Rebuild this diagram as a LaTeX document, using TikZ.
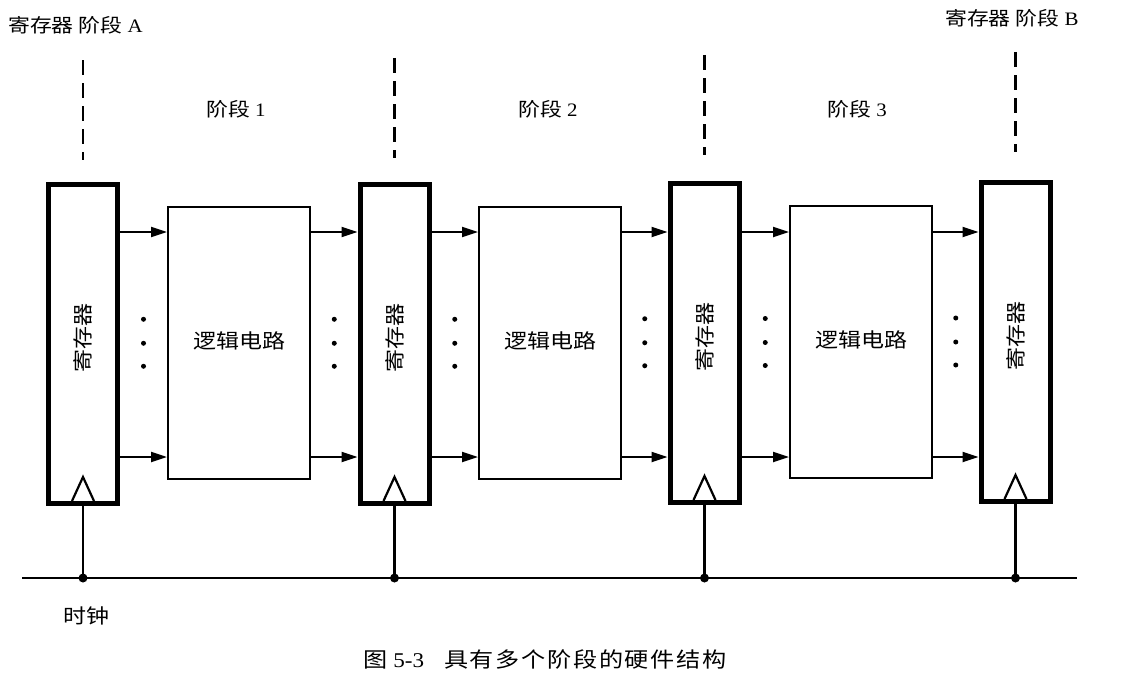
\documentclass[tikz,border=0pt]{standalone}
\usepackage{fontspec}
\setmainfont[FakeStretch=1.1]{Liberation Serif}
\newfontfamily\cjk[FakeStretch=1.15]{Noto Sans CJK SC}
\usetikzlibrary{arrows.meta,calc}
\begin{document}
\begin{tikzpicture}[x=1pt,y=-1pt,
  reg/.style={draw, line width=5pt, minimum width=69pt, minimum height=319pt, inner sep=0pt},
  logic/.style={draw, line width=2pt, minimum width=142pt, minimum height=272pt, inner sep=0pt,
     font=\cjk\fontsize{20}{24}\selectfont},
  arr/.style={line width=2.2pt, -{Triangle[length=16pt,width=10pt]}},
  dline/.style={line width=2.2pt, dash pattern=on 15pt off 8pt},
  clk/.style={line width=2.2pt},
  lbl/.style={font=\fontsize{19}{22}\selectfont, inner sep=0pt},
  vdot/.style={circle, fill, inner sep=0pt, minimum size=5pt},
  jdot/.style={circle, fill, inner sep=0pt, minimum size=9pt}
]
\useasboundingbox (0,0) rectangle (1131,685);

% registers
\node[reg] (r1) at (83,344) {};
\node[reg] (r2) at (394.5,344) {};
\node[reg] (r3) at (704.5,343) {};
\node[reg] (r4) at (1015.5,342) {};
% logic boxes
\node[logic] (l1) at (239,342.5) {\raisebox{5pt}{逻辑电路}};
\node[logic] (l2) at (550,342.5) {\raisebox{5pt}{逻辑电路}};
\node[logic] (l3) at (861,342) {\raisebox{5pt}{逻辑电路}};

% register labels
\foreach \r in {r1,r2,r3,r4}{
  \node[rotate=90, font=\cjk\fontsize{20}{24}\selectfont, inner sep=0pt] (\r t) at ($(\r.center)+(0,-6)$) {寄存器};
  % clock triangle
  \draw[line width=2.2pt] ($(\r.south)+(-11,-5)$) -- ($(\r.south)+(0,-29)$) -- ($(\r.south)+(11,-5)$);
}

% arrow rows
\coordinate (ytop) at (0,232);
\coordinate (ybot) at (0,457);
\foreach \a/\b in {r1/l1,l1/r2,r2/l2,l2/r3,r3/l3,l3/r4}{
  \draw[arr] (\a.east |- ytop) -- (\b.west |- ytop);
  \draw[arr] (\a.east |- ybot) -- (\b.west |- ybot);
  \node[vdot] at ($(\a.east)!0.5!(\b.west) + (0,-24)$) {};
  \node[vdot] at ($(\a.east)!0.5!(\b.west) + (0,0)$) {};
  \node[vdot] at ($(\a.east)!0.5!(\b.west) + (0,23)$) {};
}

% dashed stage separators
\foreach \r/\t in {r1/60,r2/58,r3/55,r4/52}{
  \coordinate (\r d1) at (\r.north |- 0,\t);
  \coordinate (\r d2) at ($(\r d1)+(0,100)$);
  \draw[dline] (\r d1) -- (\r d2);
}

% clock line
\coordinate (cl) at (22,578);
\coordinate (cr) at (1077,578);
\draw[clk] (cl) -- (cr);
\foreach \r in {r1,r2,r3,r4}{
  \draw[line width=2.2pt] (\r.south) -- (\r.south |- cl);
  \node[jdot] (\r j) at (\r.south |- cl) {};
}

% texts
\node[lbl, anchor=west] (ta) at (8,25) {{\cjk 寄存器 阶段} A};
\node[lbl, anchor=west] (tb) at (945,18) {{\cjk 寄存器 阶段} B};
\node[lbl] (s1) at (236,109) {{\cjk 阶段} 1};
\node[lbl] (s2) at (548,109) {{\cjk 阶段} 2};
\node[lbl] (s3) at (857,109) {{\cjk 阶段} 3};
\node[lbl, font=\cjk\fontsize{20}{24}\selectfont] (clkt) at (86,616) {时钟};
\node[inner sep=0pt, font=\fontsize{21}{24}\selectfont] (cap) at (545,659) {{\cjk 图} 5-3\hspace{20pt}{\cjk\addfontfeatures{LetterSpace=8}具有多个阶段的硬件结构}};
\end{tikzpicture}
\end{document}
